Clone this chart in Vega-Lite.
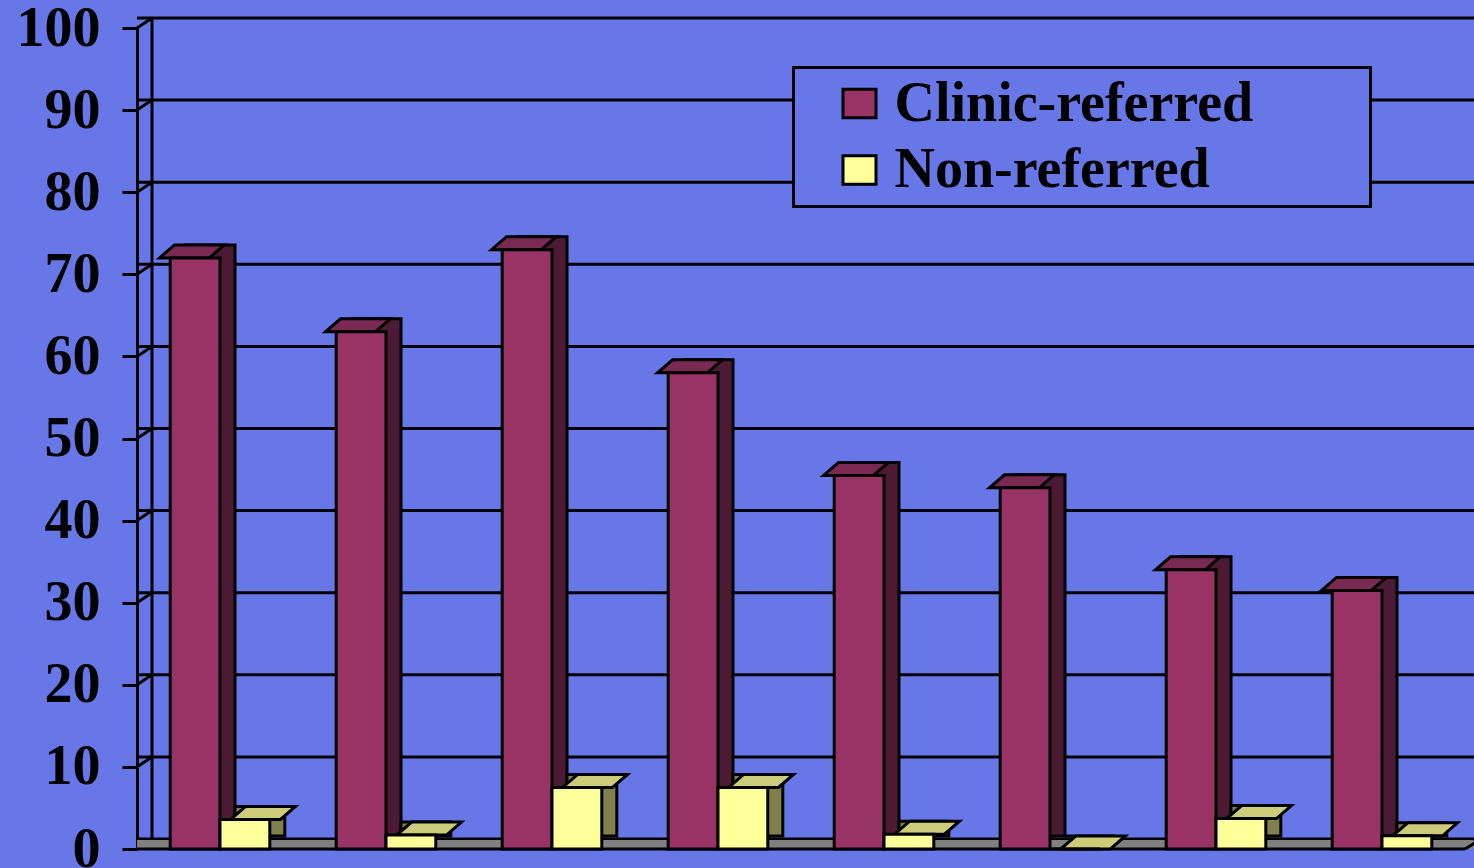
{
  "$schema": "https://vega.github.io/schema/vega-lite/v6.json",
  "width": 1328,
  "height": 821,
  "autosize": {"type": "none"},
  "padding": {"left": 137, "top": 28, "right": 9, "bottom": 19},
  "background": "#6877E8",
  "config": {
    "view": {"stroke": null},
    "legend": {
      "orient": "none",
      "legendX": 656.5,
      "legendY": 39.5,
      "padding": 8,
      "strokeColor": "black",
      "strokeWidth": 3,
      "fillColor": "#6877E8",
      "symbolType": "M-1,-0.86L1,-0.86L1,0.86L-1,0.86Z",
      "symbolSize": 1089,
      "symbolStrokeColor": "black",
      "symbolStrokeWidth": 3,
      "symbolOffset": 30,
      "labelFont": "Liberation Serif",
      "labelFontSize": 56,
      "labelFontWeight": "bold",
      "labelColor": "black",
      "labelOffset": 7,
      "labelLimit": 2000,
      "rowPadding": 10.5
    }
  },
  "datasets": {
    "bars": [
      {"group": 1, "series": "Clinic-referred", "value": 72},
      {"group": 1, "series": "Non-referred", "value": 3.6},
      {"group": 2, "series": "Clinic-referred", "value": 63},
      {"group": 2, "series": "Non-referred", "value": 1.7},
      {"group": 3, "series": "Clinic-referred", "value": 73},
      {"group": 3, "series": "Non-referred", "value": 7.5},
      {"group": 4, "series": "Clinic-referred", "value": 58},
      {"group": 4, "series": "Non-referred", "value": 7.5},
      {"group": 5, "series": "Clinic-referred", "value": 45.5},
      {"group": 5, "series": "Non-referred", "value": 1.8},
      {"group": 6, "series": "Clinic-referred", "value": 44},
      {"group": 6, "series": "Non-referred", "value": 0},
      {"group": 7, "series": "Clinic-referred", "value": 34},
      {"group": 7, "series": "Non-referred", "value": 3.7},
      {"group": 8, "series": "Clinic-referred", "value": 31.5},
      {"group": 8, "series": "Non-referred", "value": 1.6}
    ],
    "grid": [
      {"v": 0}, {"v": 10}, {"v": 20}, {"v": 30}, {"v": 40}, {"v": 50},
      {"v": 60}, {"v": 70}, {"v": 80}, {"v": 90}, {"v": 100}
    ],
    "frame": [{"part": "frame"}]
  },
  "data": {"name": "bars"},
  "resolve": {"scale": {"xOffset": "independent"}},
  "layer": [
    {
      "data": {"name": "grid"},
      "mark": {"type": "rule", "color": "black", "strokeWidth": 3, "xOffset": 15, "x2Offset": 15, "yOffset": -10, "y2Offset": -10},
      "encoding": {
        "y": {
          "field": "v", "type": "quantitative", "scale": {"domain": [0, 100], "nice": false},
          "axis": {
            "title": null,
            "values": [0, 10, 20, 30, 40, 50, 60, 70, 80, 90, 100],
            "domain": true, "domainColor": "black", "domainWidth": 3,
            "ticks": true, "tickColor": "black", "tickWidth": 3, "tickSize": 15,
            "grid": false,
            "labelFont": "Liberation Serif", "labelFontSize": 56, "labelFontWeight": "bold",
            "labelColor": "black", "labelPadding": 22, "labelFlush": false, "labelOverlap": false
          }
        }
      }
    },
    {
      "data": {"name": "frame"},
      "mark": {"type": "rule", "color": "black", "strokeWidth": 3, "xOffset": 15, "yOffset": -10, "y2Offset": -10},
      "encoding": {
        "x": {"datum": 1, "type": "ordinal", "bandPosition": 0, "axis": null},
        "y": {"datum": 0, "type": "quantitative"},
        "y2": {"datum": 100}
      }
    },
    {
      "data": {"name": "grid"},
      "mark": {"type": "point", "shape": "M0,0L15,-10", "size": 4, "filled": false, "stroke": "black", "strokeWidth": 3, "opacity": 1},
      "encoding": {
        "x": {"datum": 1, "type": "ordinal", "bandPosition": 0, "axis": null},
        "y": {"field": "v", "type": "quantitative"}
      }
    },
    {
      "data": {"name": "frame"},
      "mark": {"type": "rule", "color": "#808080", "strokeWidth": 9, "xOffset": 8, "x2Offset": 15, "yOffset": -4.5, "y2Offset": -4.5},
      "encoding": {
        "y": {"datum": 0, "type": "quantitative"}
      }
    },
    {
      "data": {"name": "frame"},
      "mark": {"type": "rule", "color": "black", "strokeWidth": 3},
      "encoding": {
        "y": {"datum": 0, "type": "quantitative"}
      }
    },
    {
      "data": {"name": "frame"},
      "mark": {"type": "point", "shape": "M0,0L15,-9", "size": 4, "filled": false, "stroke": "black", "strokeWidth": 3, "opacity": 1},
      "encoding": {
        "x": {"datum": 8, "type": "ordinal", "bandPosition": 1, "axis": null},
        "y": {"datum": 0, "type": "quantitative"}
      }
    },
    {
      "mark": {"type": "bar", "stroke": "black", "strokeWidth": 3, "yOffset": -13, "y2Offset": -9},
      "encoding": {
        "x": {"field": "group", "type": "ordinal", "scale": {"paddingInner": 0, "paddingOuter": 0}, "axis": null},
        "xOffset": {"field": "series", "type": "nominal", "scale": {"range": [15, 181], "paddingInner": 0, "paddingOuter": 0.6667}},
        "y": {"field": "value", "type": "quantitative"},
        "fill": {"condition": {"test": "datum.series === 'Non-referred'", "value": "#80804D"}, "value": "#4D1A33"}
      }
    },
    {
      "mark": {"type": "point", "shape": "M-24.9,0L24.9,0L39.9,-13L-9.9,-13Z", "size": 4, "filled": true, "stroke": "black", "strokeWidth": 3, "opacity": 1},
      "encoding": {
        "x": {"field": "group", "type": "ordinal", "axis": null},
        "xOffset": {"field": "series", "type": "nominal", "scale": {"paddingInner": 0, "paddingOuter": 0.6667}},
        "y": {"field": "value", "type": "quantitative"},
        "fill": {"condition": {"test": "datum.series === 'Non-referred'", "value": "#CCCC7A"}, "value": "#7A2952"}
      }
    },
    {
      "mark": {"type": "bar", "stroke": "black", "strokeWidth": 3},
      "encoding": {
        "x": {"field": "group", "type": "ordinal", "axis": null},
        "xOffset": {"field": "series", "type": "nominal", "scale": {"paddingInner": 0, "paddingOuter": 0.6667}},
        "y": {"field": "value", "type": "quantitative"},
        "color": {
          "field": "series", "type": "nominal",
          "scale": {"domain": ["Clinic-referred", "Non-referred"], "range": ["#993366", "#FFFF99"]},
          "legend": {"title": null, "labelExpr": "datum.label + '\u00a0\u00a0\u00a0\u00a0\u00a0\u00a0\u00a0\u2009\u200b'"}
        }
      }
    }
  ]
}
